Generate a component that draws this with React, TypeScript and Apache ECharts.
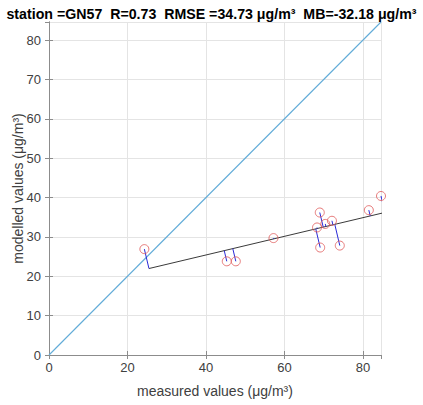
import React, { useEffect, useRef } from "react";
import * as echarts from "echarts";

const measured = [24.3, 45.3, 47.6, 57.2, 69.0, 68.3, 70.4, 72.1, 69.1, 74.1, 81.5, 84.6];
const modelled = [26.9, 23.8, 23.8, 29.7, 36.2, 32.4, 33.3, 34.1, 27.3, 27.8, 36.8, 40.4];
const fitIntercept = 15.93;
const fitSlope = 0.237;
const axisMax = 84.6;
const xTicks = [0, 20, 40, 60, 80];
const yTicks = [0, 10, 20, 30, 40, 50, 60, 70, 80];
const titleText = "station =GN57  R=0.73  RMSE =34.73 \u03bcg/m\u00b3  MB=-32.18 \u03bcg/m\u00b3";
const xName = "measured values (\u03bcg/m\u00b3)";
const yName = "modelled values (\u03bcg/m\u00b3)";

function project(x: number, y: number): [number, number] {
  const t = (x + fitSlope * (y - fitIntercept)) / (1 + fitSlope * fitSlope);
  return [t, fitIntercept + fitSlope * t];
}

export default function App() {
  const ref = useRef<HTMLDivElement>(null);
  useEffect(() => {
    if (!ref.current) return;
    const chart = echarts.init(ref.current, undefined, { renderer: "svg" });
    const font = "Liberation Sans, Arial, sans-serif";
    const proj = measured.map((x, i) => project(x, modelled[i]));
    const projX = proj.map((p) => p[0]);
    const xLo = Math.min(...projX);
    const xHi = Math.max(...projX);
    const fitLine = [
      [xLo, fitIntercept + fitSlope * xLo],
      [xHi, fitIntercept + fitSlope * xHi],
    ];
    const residualSeries = measured.map((x, i) => ({
      type: "line",
      data: [[x, modelled[i]], proj[i]],
      symbol: "none",
      lineStyle: { color: "#2a2ad8", width: 1 },
      silent: true,
      z: 3,
    }));
    const axisLineStyle = { color: "#8c8c8c", width: 1 };
    const gridLine = { show: true, lineStyle: { color: "#e4e4e4", width: 1 } };
    chart.setOption({
      animation: false,
      title: {
        text: titleText,
        left: "center",
        top: 2,
        textStyle: { fontFamily: font, fontSize: 14.2, fontWeight: "bold", color: "#000" },
      },
      grid: { left: 49, right: 42, top: 22, bottom: 50, containLabel: false, outerBoundsMode: "none" },
      xAxis: [
        {
          type: "value",
          min: 0,
          max: axisMax,
          interval: 20,
          name: xName,
          nameLocation: "middle",
          nameGap: 29,
          nameMoveOverlap: false,
          nameTextStyle: { fontFamily: font, fontSize: 14, color: "#404040" },
          axisLine: { show: true, lineStyle: axisLineStyle },
          axisTick: { show: true, inside: true, length: 4, lineStyle: axisLineStyle },
          axisLabel: {
            fontFamily: font,
            fontSize: 13,
            color: "#404040",
            margin: 6,
            showMaxLabel: false,
            formatter: (v: number) => (xTicks.includes(v) ? String(v) : ""),
          },
          splitLine: gridLine,
        },
        {
          type: "value",
          position: "top",
          min: 0,
          max: axisMax,
          interval: 20,
          axisLine: { show: true, lineStyle: axisLineStyle },
          axisTick: { show: true, inside: true, length: 4, lineStyle: axisLineStyle },
          axisLabel: { show: false },
          splitLine: { show: false },
        },
      ],
      yAxis: [
        {
          type: "value",
          min: 0,
          max: axisMax,
          interval: 10,
          name: yName,
          nameLocation: "middle",
          nameGap: 24,
          nameMoveOverlap: false,
          nameTextStyle: { fontFamily: font, fontSize: 14, color: "#404040" },
          axisLine: { show: true, lineStyle: axisLineStyle },
          axisTick: { show: true, inside: true, length: 4, lineStyle: axisLineStyle },
          axisLabel: {
            fontFamily: font,
            fontSize: 13,
            color: "#404040",
            margin: 8,
            showMaxLabel: false,
            formatter: (v: number) => (yTicks.includes(v) ? String(v) : ""),
          },
          splitLine: gridLine,
        },
        {
          type: "value",
          position: "right",
          min: 0,
          max: axisMax,
          interval: 10,
          axisLine: { show: true, lineStyle: axisLineStyle },
          axisTick: { show: true, inside: true, length: 4, lineStyle: axisLineStyle },
          axisLabel: { show: false },
          splitLine: { show: false },
        },
      ],
      series: [
        {
          type: "line",
          data: [
            [0, 0],
            [axisMax, axisMax],
          ],
          symbol: "none",
          lineStyle: { color: "#62acd8", width: 1.1 },
          silent: true,
          z: 2,
        },
        {
          type: "line",
          data: fitLine,
          symbol: "none",
          lineStyle: { color: "#3a3a3a", width: 1 },
          silent: true,
          z: 2,
        },
        ...residualSeries,
        {
          type: "scatter",
          data: measured.map((x, i) => [x, modelled[i]]),
          symbol: "circle",
          symbolSize: 9,
          clip: false,
          itemStyle: { color: "rgba(0,0,0,0)", borderColor: "#e05a5a", borderWidth: 1 },
          silent: true,
          z: 4,
        },
      ],
    });
    return () => chart.dispose();
  }, []);
  return <div ref={ref} style={{ width: 423, height: 405, position: "absolute", left: 0, top: 0, background: "#fff" }} />;
}
